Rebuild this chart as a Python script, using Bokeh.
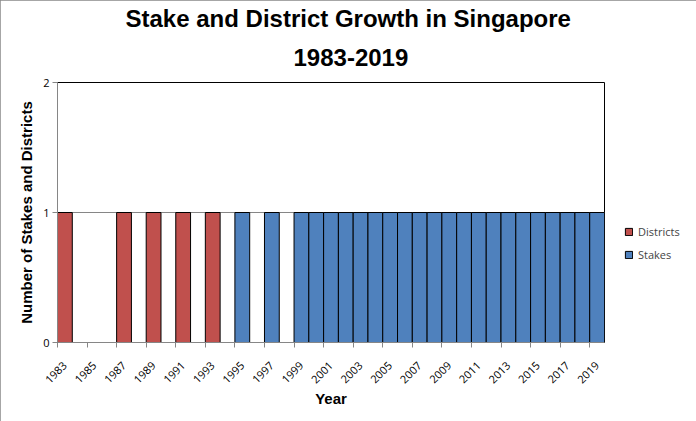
import math
from bokeh.plotting import figure
from bokeh.models import Title, Legend, LegendItem, FixedTicker, Range1d
from bokeh.embed import file_html
from bokeh.resources import INLINE

years = list(range(1983, 2020))
districts = [1, 0, 0, 0, 1, 0, 1, 0, 1, 0, 1] + [0] * 26
stakes = [0] * 12 + [1, 0, 1, 0] + [1] * 21
label_years = list(range(1983, 2020, 2))

RED = "#C0504D"
BLUE = "#4F81BD"
GREY = "#868686"

p = figure(frame_width=547, frame_height=260, output_backend="svg", toolbar_location=None,
           x_range=Range1d(1983, 2020), y_range=Range1d(0, 2),
           min_border_left=57, min_border_right=92, min_border_top=82,
           min_border_bottom=79)

p.styles = {"outline": "1px solid #898989", "outline-offset": "-1px"}

centers = [y + 0.5 for y in years]
d = p.vbar(x=centers, top=districts, width=1, fill_color=RED, line_color="black", line_width=1)
s = p.vbar(x=centers, top=stakes, width=1, fill_color=BLUE, line_color="black", line_width=1)

# titles (added bottom line first so it sits closer to the plot)
t2 = Title(text="1983-2019", align="left", text_font="Liberation Sans",
           text_font_size="24px", text_font_style="bold", text_color="black",
           offset=236, standoff=34)
t1 = Title(text="Stake and District Growth in Singapore", align="left",
           text_font="Liberation Sans", text_font_size="24px", text_font_style="bold",
           text_color="black", offset=68, standoff=0)
try:
    t1.standoff = -4
except ValueError:
    t1.standoff = 0
p.add_layout(t2, "above")
p.add_layout(t1, "above")

# labels sit under the category centre, tick marks on the category boundaries
p.xaxis.ticker = FixedTicker(ticks=[y + 0.5 for y in label_years], minor_ticks=label_years)
p.xaxis.major_label_overrides = {y + 0.5: str(y) for y in label_years}
p.xaxis.major_label_orientation = math.pi / 4
p.xaxis.major_label_text_font = "Open Sans"
p.xaxis.major_label_text_font_size = "11px"
p.xaxis.major_label_text_color = "black"
p.xaxis.major_tick_line_color = None
p.xaxis.major_tick_out = 0
p.xaxis.major_tick_in = 0
p.xaxis.major_label_standoff = 16
p.xaxis.minor_tick_line_color = GREY
p.xaxis.minor_tick_out = 5
p.xaxis.minor_tick_in = 0
p.xaxis.axis_label = "Year"
p.xaxis.axis_label_standoff = 0

p.yaxis.ticker = FixedTicker(ticks=[0, 1, 2])
p.yaxis.major_label_text_font = "Open Sans"
p.yaxis.major_label_text_font_size = "11px"
p.yaxis.major_label_text_color = "black"
p.yaxis.major_label_standoff = 3
p.yaxis.major_tick_line_color = GREY
p.yaxis.major_tick_in = 0
p.yaxis.major_tick_out = 5
p.yaxis.minor_tick_line_color = None
p.yaxis.axis_label = "Number of Stakes and Districts"

for ax in (p.xaxis, p.yaxis):
    ax.axis_line_color = GREY
    ax.axis_label_text_font = "Liberation Sans"
    ax.axis_label_text_font_size = "15px"
    ax.axis_label_text_font_style = "bold"
    ax.axis_label_text_color = "black"

p.xgrid.grid_line_color = None
p.ygrid.ticker = FixedTicker(ticks=[1])
p.ygrid.grid_line_color = GREY
p.outline_line_color = "black"

legend = Legend(items=[LegendItem(label="Districts", renderers=[d]),
                       LegendItem(label="Stakes", renderers=[s])],
                location=(20, 80), border_line_color=None, background_fill_alpha=0,
                label_text_font="Open Sans", label_text_font_size="11px",
                glyph_width=9, glyph_height=9, label_height=12, spacing=8,
                padding=4, margin=0, label_standoff=5)
p.add_layout(legend, "right")

open("out.html", "w").write(file_html(p, INLINE))
